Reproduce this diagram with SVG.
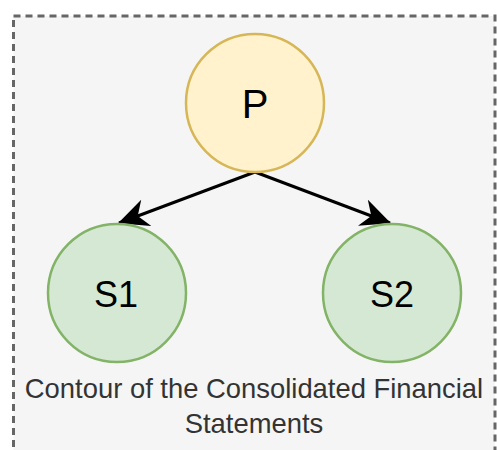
<svg xmlns="http://www.w3.org/2000/svg" width="497" height="450" viewBox="0 0 497 450">
<style>
.lbl{font-family:"Liberation Sans",Arial,sans-serif;text-anchor:middle;fill:#000}
.cap{font-family:"Liberation Sans",Arial,sans-serif;text-anchor:middle;fill:#333;font-size:27.4px}
.edge{stroke:#000;stroke-width:3;fill:none}
</style>
<defs>
<marker id="arr" markerUnits="userSpaceOnUse" viewBox="0 0 30 28" markerWidth="30" markerHeight="28" refX="29" refY="14" orient="auto">
<path d="M0,0 L30,14 L0,28 L9,14 Z" fill="#000"/>
</marker>
</defs>
<g id="contour">
<rect x="13.5" y="16" width="481.5" height="460" fill="#f5f5f5" stroke="#666" stroke-width="3" stroke-dasharray="7,5"/>
<text class="cap" x="254" y="398">Contour of the Consolidated Financial</text>
<text class="cap" x="254" y="433">Statements</text>
</g>
<g id="connectors">
<line class="edge" x1="255" y1="172" x2="119" y2="223" marker-end="url(#arr)"/>
<line class="edge" x1="255" y1="172" x2="390" y2="223" marker-end="url(#arr)"/>
</g>
<g id="P">
<circle cx="255" cy="103" r="69" fill="#fff2cc" stroke="#d6b656" stroke-width="2.5"/>
<text class="lbl" x="255" y="117.5" font-size="40">P</text>
</g>
<g id="S1">
<circle cx="117" cy="293" r="69" fill="#d5e8d4" stroke="#82b366" stroke-width="2.5"/>
<text class="lbl" x="116" y="306.5" font-size="36">S1</text>
</g>
<g id="S2">
<circle cx="392" cy="293" r="69" fill="#d5e8d4" stroke="#82b366" stroke-width="2.5"/>
<text class="lbl" x="392" y="306.5" font-size="36">S2</text>
</g>
</svg>
